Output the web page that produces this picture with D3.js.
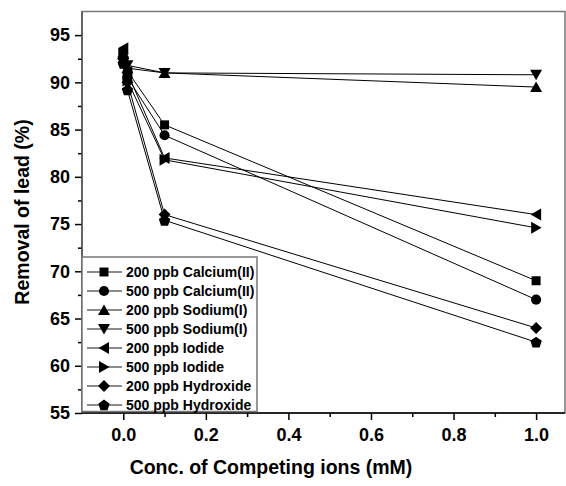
<!DOCTYPE html>
<html>
<head>
<meta charset="utf-8">
<script src="https://cdn.jsdelivr.net/npm/d3@7"></script>
<style>
  body { margin: 0; background: #fff; }
  text { font-family: "Liberation Sans", Arial, sans-serif; font-weight: bold; }
</style>
</head>
<body>
<div id="chart"></div>
<script>
"use strict";

// concentrations (mM)
var conc = [0, 0.01, 0.1, 1.0];

var seriesNames = [
  "200 ppb Calcium(II)", "500 ppb Calcium(II)",
  "200 ppb Sodium(I)", "500 ppb Sodium(I)",
  "200 ppb Iodide", "500 ppb Iodide",
  "200 ppb Hydroxide", "500 ppb Hydroxide"
];
var seriesShapes = ["square", "circle", "up", "down", "left", "right", "diamond", "pentagon"];

var ca200 = [92.5, 91.2, 85.5, 69.0];
var ca500 = [92.0, 90.5, 84.4, 67.0];
var na200 = [93.0, 91.5, 91.0, 89.5];
var na500 = [92.2, 91.8, 91.0, 90.8];
var io200 = [93.6, 91.0, 82.0, 76.0];
var io500 = [93.0, 90.2, 81.8, 74.6];
var oh200 = [92.5, 90.0, 76.0, 64.0];
var oh500 = [92.0, 89.2, 75.4, 62.5];
var seriesValues = [ca200, ca500, na200, na500, io200, io500, oh200, oh500];

var xTicks = [0, 0.2, 0.4, 0.6, 0.8, 1.0];
var xMinor = [0.1, 0.3, 0.5, 0.7, 0.9];
var yTicks = [55, 60, 65, 70, 75, 80, 85, 90, 95];
var yMinor = [57.5, 62.5, 67.5, 72.5, 77.5, 82.5, 87.5, 92.5];

var W = 566, H = 486;
var margin = { left: 82, right: 1, top: 11.5, bottom: 73 };

var svg = d3.select("#chart").append("svg")
  .attr("width", W).attr("height", H);

var x = d3.scaleLinear().domain([-0.1, 1.07]).range([margin.left, W - margin.right]);
var y = d3.scaleLinear().domain([55, 97.5]).range([H - margin.bottom, margin.top]);

function markerPath(shape) {
  switch (shape) {
    case "square": return "M-4.5,-4.5h9v9h-9z";
    case "circle": return d3.symbol(d3.symbolCircle, 80)();
    case "diamond": return "M0,-6L6,0L0,6L-6,0Z";
    case "up": return "M0,-5.5L6,5L-6,5Z";
    case "down": return "M0,5.5L6,-5L-6,-5Z";
    case "left": return "M-5.5,0L5,-6L5,6Z";
    case "right": return "M5.5,0L-5,-6L-5,6Z";
    case "pentagon":
      var pts = d3.range(5).map(function(i) {
        var a = -Math.PI / 2 + i * 2 * Math.PI / 5;
        return [6 * Math.cos(a), 6 * Math.sin(a) + 0.5];
      });
      return "M" + pts.join("L") + "Z";
  }
  return "";
}

// frame
svg.append("rect")
  .attr("x", x.range()[0]).attr("y", y.range()[1])
  .attr("width", x.range()[1] - x.range()[0])
  .attr("height", y.range()[0] - y.range()[1])
  .attr("fill", "none").attr("stroke", "#777").attr("stroke-width", 1.5);

// lines
var line = d3.line()
  .x(function(d, i) { return x(conc[i]); })
  .y(function(d) { return y(d); });

svg.selectAll(".series")
  .data(seriesValues)
  .enter().append("path")
  .attr("class", "series")
  .attr("d", line)
  .attr("fill", "none")
  .attr("stroke", "#000")
  .attr("stroke-width", 1);

// markers
seriesValues.forEach(function(vals, k) {
  svg.selectAll(".m" + k)
    .data(vals)
    .enter().append("path")
    .attr("class", "m" + k)
    .attr("d", markerPath(seriesShapes[k]))
    .attr("transform", function(d, i) {
      return "translate(" + x(conc[i]) + "," + y(d) + ")";
    })
    .attr("fill", "#000");
});

// axes
function styleAxis(g) {
  g.select(".domain").remove();
  g.selectAll(".tick line").attr("stroke", "#000").attr("stroke-width", 1.5);
  g.selectAll("text").attr("fill", "#000").style("font-size", "18px");
}

var bottom = y.range()[0];
svg.append("g")
  .attr("transform", "translate(0," + bottom + ")")
  .call(d3.axisBottom(x).tickValues(xTicks).tickSize(7).tickPadding(8)
    .tickFormat(d3.format(".1f")))
  .call(styleAxis);
svg.append("g")
  .attr("transform", "translate(0," + bottom + ")")
  .call(d3.axisBottom(x).tickValues(xMinor).tickSize(4).tickFormat(""))
  .call(styleAxis);

svg.append("g")
  .attr("transform", "translate(" + margin.left + ",0)")
  .call(d3.axisLeft(y).tickValues(yTicks).tickSize(7).tickPadding(5))
  .call(styleAxis);
svg.append("g")
  .attr("transform", "translate(" + margin.left + ",0)")
  .call(d3.axisLeft(y).tickValues(yMinor).tickSize(4).tickFormat(""))
  .call(styleAxis);

// axis lines
svg.append("line")
  .attr("x1", x.range()[0]).attr("x2", x.range()[1])
  .attr("y1", bottom).attr("y2", bottom)
  .attr("stroke", "#000").attr("stroke-width", 1.5);
svg.append("line")
  .attr("x1", margin.left).attr("x2", margin.left)
  .attr("y1", y.range()[1]).attr("y2", bottom)
  .attr("stroke", "#555").attr("stroke-width", 1.5);

// titles
svg.append("text")
  .attr("x", 271).attr("y", 474)
  .attr("text-anchor", "middle")
  .style("font-size", "19.5px")
  .text("Conc. of Competing ions (mM)");
svg.append("text")
  .attr("transform", "translate(29,212) rotate(-90)")
  .attr("text-anchor", "middle")
  .style("font-size", "19.5px")
  .text("Removal of lead (%)");

// legend
var lx = margin.left, ly = 257, lw = 175, lh = bottom - 1.5 - ly;
var legend = svg.append("g");
legend.append("rect")
  .attr("x", lx).attr("y", ly).attr("width", lw).attr("height", lh)
  .attr("fill", "#fff").attr("stroke", "#777").attr("stroke-width", 1.5);

var items = legend.selectAll(".item")
  .data(seriesNames)
  .enter().append("g")
  .attr("class", "item")
  .attr("transform", function(d, i) { return "translate(0," + (272 + i * 19) + ")"; });

items.append("line")
  .attr("x1", 87).attr("x2", 122)
  .attr("stroke", "#666").attr("stroke-width", 1.5);
items.append("path")
  .attr("d", function(d, i) { return markerPath(seriesShapes[i]); })
  .attr("transform", "translate(104,0)")
  .attr("fill", "#000");
items.append("text")
  .attr("x", 126).attr("dy", "0.36em")
  .style("font-size", "14px")
  .text(function(d) { return d; });
</script>
</body>
</html>
